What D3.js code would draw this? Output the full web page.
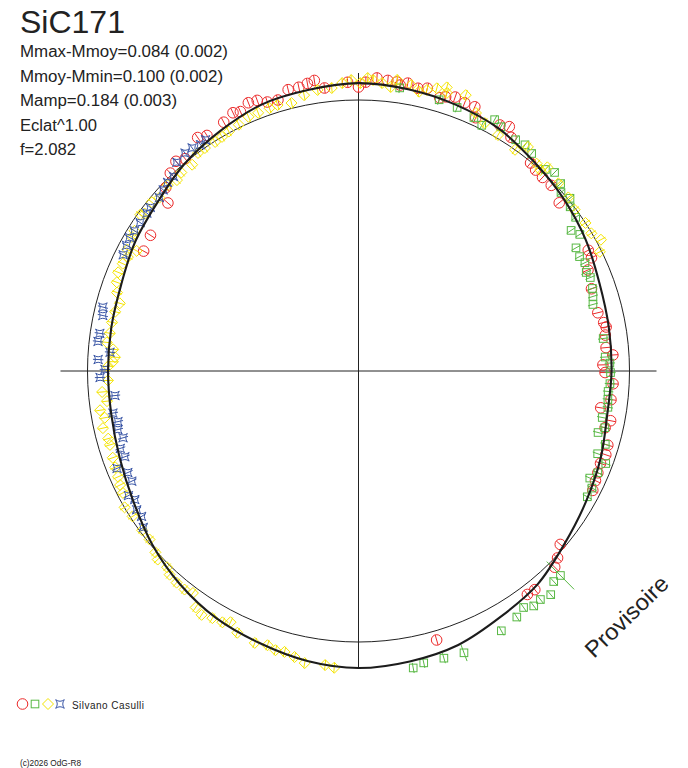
<!DOCTYPE html>
<html>
<head>
<meta charset="utf-8">
<script src="https://cdn.jsdelivr.net/npm/d3@7"></script>
<style>
body { margin: 0; background: #fff; }
text { font-family: "Liberation Sans", Arial, sans-serif; fill: #222; }
</style>
</head>
<body>
<svg id="polar"></svg>
<script>
// texts of the chart
var starName = "SiC171";
var statLines = ["Mmax-Mmoy=0.084 (0.002)", "Mmoy-Mmin=0.100 (0.002)", "Mamp=0.184 (0.003)", "Eclat^1.00", "f=2.082"];
var observer = "Silvano Casulli";
var credit = "(c)2026 OdG-R8";
var stamp = "Provisoire";

// fitted light curve: delta mag every 10 degrees of phase (0 at top, clockwise)
var fitDm = [0.065, 0.058, 0.048, 0.035, 0.008, -0.012, -0.033, -0.056, -0.065, -0.069,
    -0.071, -0.052, -0.033, -0.008, 0.029, 0.050, 0.079, 0.092, 0.100, 0.090,
    0.071, 0.054, 0.027, -0.006, -0.042, -0.065, -0.077, -0.079, -0.077, -0.071,
    -0.050, -0.033, -0.002, 0.023, 0.048, 0.056];

// observations [phase, delta mag, error (optional)]
var redObs = [[0.831,-0.096],[0.842,-0.087],[0.865,-0.065],[0.871,-0.019],[0.879,0.008],[0.886,0.027],[0.891,0.012],
    [0.904,0.048],[0.909,0.035],[0.921,0.046],[0.928,0.062],[0.932,0.054],[0.938,0.073],[0.943,0.069],[0.948,0.050],
    [0.954,0.045],[0.961,0.073],[0.967,0.073],[0.972,0.081],[0.976,0.088],[0.981,0.054],[0.994,0.069],[0.000,0.050],
    [0.004,0.069],[0.010,0.087],[0.016,0.081],[0.021,0.079],[0.023,0.069],[0.027,0.081],[0.033,0.069],[0.038,0.077],
    [0.046,0.054],[0.049,0.064],[0.054,0.075],[0.060,0.067],[0.066,0.068],[0.069,0.031],[0.083,0.049],[0.088,0.062],
    [0.092,0.031],[0.110,-0.004],[0.115,-0.012],[0.121,-0.015],[0.128,-0.013],[0.139,-0.035],[0.173,-0.044],
    [0.178,-0.046],[0.184,-0.078],[0.196,-0.092],[0.212,-0.095],[0.219,-0.081],[0.222,-0.075],[0.227,-0.083],
    [0.235,-0.086],[0.240,-0.062],[0.246,-0.102],[0.251,-0.094],[0.258,-0.062],[0.268,-0.065],[0.274,-0.100],
    [0.281,-0.054],[0.286,-0.069],[0.296,-0.042],[0.302,-0.038],[0.308,-0.046],[0.314,-0.042],[0.319,-0.038],
    [0.325,-0.031],[0.363,-0.019],[0.370,0.008],[0.375,0.025],[0.392,0.038],[0.397,0.035],[0.455,0.035]];

var greenObs = [[0.023,0.058],[0.046,0.046],[0.057,0.040],[0.068,0.029],[0.074,0.015],[0.079,0.057],[0.084,0.045],
    [0.095,0.033],[0.101,0.038],[0.107,0.027],[0.119,0.015],[0.124,0.031],[0.131,0.018],[0.135,-0.004],[0.141,0.008],
    [0.145,-0.012],[0.152,-0.019],[0.157,-0.062],[0.162,-0.042],[0.168,-0.081],[0.174,-0.085],[0.179,-0.077],
    [0.185,-0.088],[0.189,-0.081],[0.196,-0.088],[0.201,-0.096],[0.206,-0.105],[0.229,-0.093],[0.241,-0.092],
    [0.245,-0.075],[0.251,-0.073],[0.258,-0.074],[0.263,-0.079],[0.268,-0.077],[0.273,-0.073],[0.280,-0.088],
    [0.286,-0.070],[0.290,-0.091],[0.296,-0.052],[0.303,-0.069],[0.307,-0.027],[0.314,-0.042],[0.319,-0.062],
    [0.324,-0.038],[0.330,-0.038],[0.376,0.063,0.075],[0.381,0.062],[0.387,0.092],[0.393,0.081],[0.398,0.085],
    [0.403,0.067],[0.409,0.083],[0.420,0.098],[0.443,0.115,0.034],[0.454,0.110],[0.465,0.108],[0.471,0.119]];

var yellowObs = [[0.513,0.103],[0.518,0.096],[0.529,0.100],[0.535,0.085],[0.541,0.075],[0.546,0.078],[0.551,0.069],
    [0.558,0.077],[0.569,0.067],[0.575,0.042],[0.579,0.057],[0.585,0.062],[0.591,0.073],[0.596,0.062],[0.602,0.023],
    [0.607,0.032],[0.613,0.031],[0.619,0.026],[0.623,0.012],[0.630,0.017],[0.634,0.005],[0.642,-0.010],[0.649,-0.009],
    [0.659,-0.009],[0.666,-0.001],[0.674,-0.022],[0.679,-0.026],[0.684,-0.032],[0.690,-0.036],[0.696,-0.040],
    [0.704,-0.045],[0.708,-0.045],[0.715,-0.035],[0.721,-0.050],[0.726,-0.037],[0.731,-0.068],[0.737,-0.053],
    [0.744,-0.078],[0.753,-0.079],[0.756,-0.097],[0.759,-0.104],[0.764,-0.095],[0.768,-0.068],[0.774,-0.075],
    [0.781,-0.076],[0.788,-0.079],[0.794,-0.088],[0.800,-0.066],[0.806,-0.052],[0.812,-0.043],[0.818,-0.046],
    [0.823,-0.053],[0.829,-0.072],[0.827,-0.038],[0.835,-0.030],[0.839,-0.026],[0.849,-0.010],[0.851,-0.021],
    [0.859,-0.016],[0.864,-0.027],[0.873,-0.018],[0.879,-0.029],[0.884,-0.019],[0.892,-0.023],[0.899,-0.001],
    [0.904,-0.001],[0.911,-0.003],[0.916,0.000],[0.921,0.005],[0.928,0.011],[0.935,0.023],[0.941,0.023],[0.948,0.025],
    [0.953,0.027],[0.961,0.020],[0.969,0.039],[0.977,0.050],[0.985,0.051],[0.991,0.067],[0.996,0.077],[0.001,0.065],
    [0.005,0.085],[0.008,0.078],[0.013,0.069],[0.018,0.057],[0.021,0.087],[0.029,0.076],[0.034,0.057],[0.038,0.070],
    [0.043,0.086],[0.048,0.100],[0.049,0.080],[0.059,0.096],[0.068,0.048],[0.075,0.028],[0.085,0.012],[0.098,0.000],
    [0.103,0.038],[0.113,0.009],[0.117,0.000],[0.119,0.026],[0.130,0.012],[0.140,0.005],[0.148,-0.005],[0.158,0.000],
    [0.165,-0.002],[0.171,0.018],[0.177,-0.007]];

var blueObs = [[0.907,0.024],[0.903,0.019],[0.898,0.028],[0.893,0.029],[0.886,0.022],[0.879,-0.010],[0.874,-0.010],
    [0.869,-0.018],[0.864,-0.027],[0.856,-0.024],[0.852,-0.027],[0.845,-0.027],[0.839,-0.026],[0.834,-0.023],
    [0.829,-0.028],[0.823,-0.033],[0.789,-0.029],[0.784,-0.036],[0.773,-0.037],[0.768,-0.034],[0.762,-0.084],
    [0.757,-0.040],[0.751,-0.067],[0.746,-0.048],[0.734,-0.101],[0.723,-0.084],[0.717,-0.097],[0.712,-0.090],
    [0.706,-0.101],[0.700,-0.079],[0.694,-0.085],[0.689,-0.041],[0.684,-0.073],[0.678,-0.073],[0.671,-0.036],
    [0.667,-0.050],[0.661,-0.036],[0.656,-0.038],[0.650,-0.019]];

var defaultErr = 0.02;

var width = 688, height = 768;
var cx = 358.5, cy = 371;
var axisLen = 298;

var svg = d3.select("#polar")
    .attr("width", width)
    .attr("height", height);

svg.append("rect").attr("width", width).attr("height", height).attr("fill", "#fff");

//scales: phase -> angle, delta mag -> radius
var angle = d3.scaleLinear().domain([0, 1]).range([0, 2 * Math.PI]);
var radius = d3.scaleLinear().domain([-0.1, 0.1]).range([245, 297]);

function px(p, dm) {
    var a = angle(p), r = radius(dm);
    return [cx + r * Math.sin(a), cy - r * Math.cos(a)];
}

var plot = svg.append("g");

//axes cross
plot.append("line")
    .attr("x1", cx - axisLen).attr("x2", cx + axisLen)
    .attr("y1", cy).attr("y2", cy)
    .attr("stroke", "#222").attr("stroke-width", 1);
plot.append("line")
    .attr("x1", cx).attr("x2", cx)
    .attr("y1", cy - axisLen).attr("y2", cy + axisLen)
    .attr("stroke", "#222").attr("stroke-width", 1);

//mean magnitude circle
plot.append("circle")
    .attr("cx", cx).attr("cy", cy)
    .attr("r", radius(0))
    .attr("fill", "none")
    .attr("stroke", "#222").attr("stroke-width", 1);

//marker shapes
function circleShape(g) {
    g.append("circle").attr("r", 5.3);
}
function squareShape(g) {
    g.append("rect").attr("x", -3.8).attr("y", -3.8).attr("width", 7.6).attr("height", 7.6);
}
function diamondShape(g) {
    g.append("path").attr("d", "M0,-5.5L5.5,0L0,5.5L-5.5,0Z");
}
function starShape(g) {
    var s = 4.3, c = 1.2;
    g.append("path").attr("d",
        "M" + (-s) + "," + (-s) + "Q0," + (-c) + " " + s + "," + (-s) +
        "Q" + c + ",0 " + s + "," + s +
        "Q0," + c + " " + (-s) + "," + s +
        "Q" + (-c) + ",0 " + (-s) + "," + (-s) + "Z");
}

var series = [
    { data: redObs, color: "#ec2a2a", shape: circleShape },
    { data: greenObs, color: "#58b844", shape: squareShape },
    { data: yellowObs, color: "#f4e400", shape: diamondShape },
    { data: blueObs, color: "#3a56a6", shape: starShape }
];

series.forEach(function(s) {
    var grp = plot.append("g")
        .attr("fill", "none")
        .attr("stroke", s.color)
        .attr("stroke-width", 1);

    var pts = grp.selectAll("g.pt")
        .data(s.data)
        .enter()
        .append("g")
        .attr("class", "pt");

    //radial error bar
    pts.append("line")
        .attr("x1", d => px(d[0], d[1] - (d[2] || defaultErr))[0])
        .attr("y1", d => px(d[0], d[1] - (d[2] || defaultErr))[1])
        .attr("x2", d => px(d[0], d[1] + (d[2] || defaultErr))[0])
        .attr("y2", d => px(d[0], d[1] + (d[2] || defaultErr))[1]);

    pts.append("g")
        .attr("transform", d => "translate(" + px(d[0], d[1]).join(",") + ")")
        .each(function() { s.shape(d3.select(this)); });
});

//fitted curve on top
var fitLine = d3.lineRadial()
    .angle((d, i) => angle(i / fitDm.length))
    .radius(d => radius(d))
    .curve(d3.curveCardinalClosed);

plot.append("path")
    .datum(fitDm)
    .attr("transform", "translate(" + cx + "," + cy + ")")
    .attr("d", fitLine)
    .attr("fill", "none")
    .attr("stroke", "#1c1c1c")
    .attr("stroke-width", 2.1);

//title and stats
svg.append("text")
    .attr("x", 20).attr("y", 33)
    .style("font-size", "32px")
    .text(starName);

var statWidths = [208, 203, 157, 77, 56];
svg.selectAll("text.stat")
    .data(statLines)
    .enter()
    .append("text")
    .attr("class", "stat")
    .attr("x", 20)
    .attr("y", (d, i) => 57 + i * 24.5)
    .attr("textLength", (d, i) => statWidths[i])
    .attr("lengthAdjust", "spacingAndGlyphs")
    .style("font-size", "16px")
    .text(d => d);

//legend
var legend = svg.append("g").attr("fill", "none").attr("stroke-width", 1);
var legendX = [22.5, 35, 48, 60];
series.forEach(function(s, i) {
    var lg = legend.append("g")
        .attr("stroke", s.color)
        .attr("transform", "translate(" + legendX[i] + ",704)");
    s.shape(lg);
});
svg.append("text")
    .attr("x", 72).attr("y", 709)
    .attr("textLength", 72)
    .attr("lengthAdjust", "spacing")
    .style("font-size", "10px")
    .text(observer);

svg.append("text")
    .attr("x", 20).attr("y", 766)
    .attr("textLength", 61)
    .attr("lengthAdjust", "spacingAndGlyphs")
    .style("font-size", "8.5px")
    .text(credit);

//provisional stamp
svg.append("text")
    .attr("transform", "translate(594,659) rotate(-44)")
    .attr("textLength", 106)
    .attr("lengthAdjust", "spacingAndGlyphs")
    .style("font-size", "23px")
    .text(stamp);
</script>
</body>
</html>
